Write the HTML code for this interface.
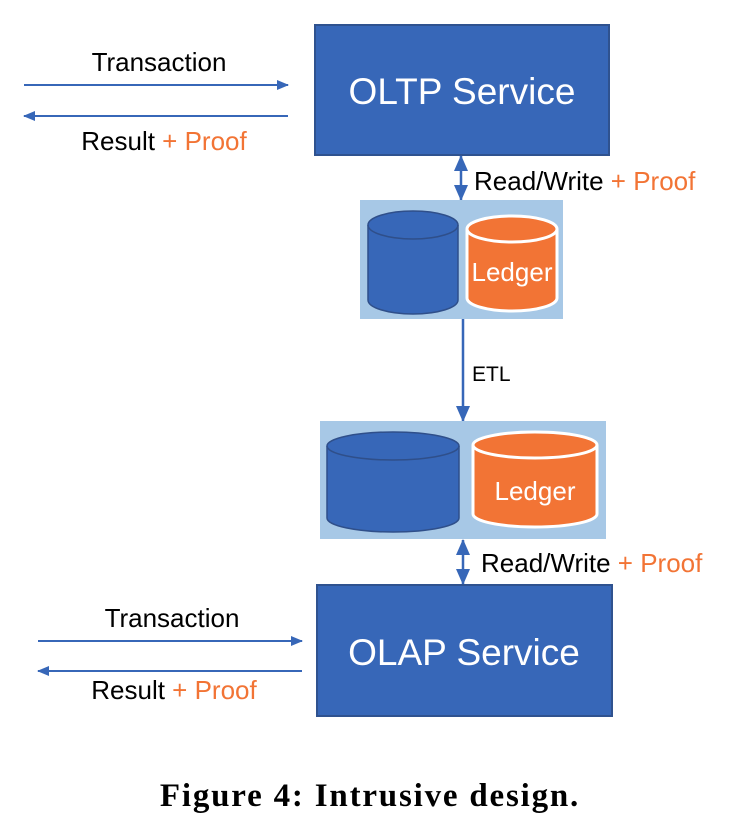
<!DOCTYPE html>
<html><head><style>
body{margin:0;background:#fff;}
svg text{font-family:"Liberation Sans",sans-serif;}
</style></head><body>
<svg width="747" height="831" viewBox="0 0 747 831" xmlns="http://www.w3.org/2000/svg">
<defs>
<marker id="ah" markerWidth="12" markerHeight="12" refX="11" refY="6" orient="auto" markerUnits="userSpaceOnUse"><path d="M0,1 L12,6 L0,11 z" fill="#3767b8"/></marker>
<marker id="bh" markerWidth="16" markerHeight="16" refX="15" refY="8" orient="auto" markerUnits="userSpaceOnUse"><path d="M0,1 L16,8 L0,15 z" fill="#3767b8"/></marker>
<marker id="bs" markerWidth="16" markerHeight="16" refX="1" refY="8" orient="auto" markerUnits="userSpaceOnUse"><path d="M16,1 L0,8 L16,15 z" fill="#3767b8"/></marker>
</defs>
<rect x="315" y="25" width="294" height="130" fill="#3767b8" stroke="#2f528f" stroke-width="2"/>
<text x="462" y="104" font-size="37" fill="#fff" text-anchor="middle">OLTP Service</text>
<line x1="24" y1="85" x2="288" y2="85" stroke="#3767b8" stroke-width="2" marker-end="url(#ah)"/>
<line x1="288" y1="116" x2="24" y2="116" stroke="#3767b8" stroke-width="2" marker-end="url(#ah)"/>
<text x="159" y="71" font-size="26" text-anchor="middle">Transaction</text>
<text x="164" y="150" font-size="26" text-anchor="middle">Result <tspan fill="#f27435">+ Proof</tspan></text>
<line x1="461" y1="156" x2="461" y2="200" stroke="#3767b8" stroke-width="2.5" marker-start="url(#bs)" marker-end="url(#bh)"/>
<text x="474" y="190" font-size="26">Read/Write <tspan fill="#f27435">+ Proof</tspan></text>
<rect x="360" y="200" width="203" height="119" fill="#a7c8e6"/>
<path d="M368,225 L368,300 A45,14 0 0 0 458,300 L458,225 A45,14 0 0 0 368,225 Z" fill="#3767b8" stroke="#2f4f8a" stroke-width="1.5"/>
<path d="M368,225 A45,14 0 0 0 458,225" fill="none" stroke="#2f4f8a" stroke-width="1.5"/>
<path d="M467,229 L467,298 A45,13 0 0 0 557,298 L557,229 A45,13 0 0 0 467,229 Z" fill="#f27435" stroke="#fff" stroke-width="3"/>
<path d="M467,229 A45,13 0 0 0 557,229" fill="none" stroke="#fff" stroke-width="3"/>
<text x="512" y="281" font-size="26" fill="#fff" text-anchor="middle">Ledger</text>
<line x1="463" y1="319" x2="463" y2="421" stroke="#3767b8" stroke-width="2.5" marker-end="url(#bh)"/>
<text x="472" y="381" font-size="21">ETL</text>
<rect x="320" y="421" width="286" height="118" fill="#a7c8e6"/>
<path d="M327,446 L327,518 A66,14 0 0 0 459,518 L459,446 A66,14 0 0 0 327,446 Z" fill="#3767b8" stroke="#2f4f8a" stroke-width="1.5"/>
<path d="M327,446 A66,14 0 0 0 459,446" fill="none" stroke="#2f4f8a" stroke-width="1.5"/>
<path d="M473,445 L473,514 A62,13 0 0 0 597,514 L597,445 A62,13 0 0 0 473,445 Z" fill="#f27435" stroke="#fff" stroke-width="3"/>
<path d="M473,445 A62,13 0 0 0 597,445" fill="none" stroke="#fff" stroke-width="3"/>
<text x="535" y="500" font-size="26" fill="#fff" text-anchor="middle">Ledger</text>
<line x1="463" y1="540" x2="463" y2="584" stroke="#3767b8" stroke-width="2.5" marker-start="url(#bs)" marker-end="url(#bh)"/>
<text x="481" y="572" font-size="26">Read/Write <tspan fill="#f27435">+ Proof</tspan></text>
<rect x="317" y="585" width="295" height="131" fill="#3767b8" stroke="#2f528f" stroke-width="2"/>
<text x="464" y="665" font-size="37" fill="#fff" text-anchor="middle">OLAP Service</text>
<line x1="38" y1="641" x2="302" y2="641" stroke="#3767b8" stroke-width="2" marker-end="url(#ah)"/>
<line x1="302" y1="671" x2="38" y2="671" stroke="#3767b8" stroke-width="2" marker-end="url(#ah)"/>
<text x="172" y="627" font-size="26" text-anchor="middle">Transaction</text>
<text x="174" y="699" font-size="26" text-anchor="middle">Result <tspan fill="#f27435">+ Proof</tspan></text>
<text x="370" y="806" font-size="33" font-weight="bold" letter-spacing="1.8" text-anchor="middle" style="font-family:'Liberation Serif',serif">Figure 4: Intrusive design.</text>
</svg>
</body></html>
